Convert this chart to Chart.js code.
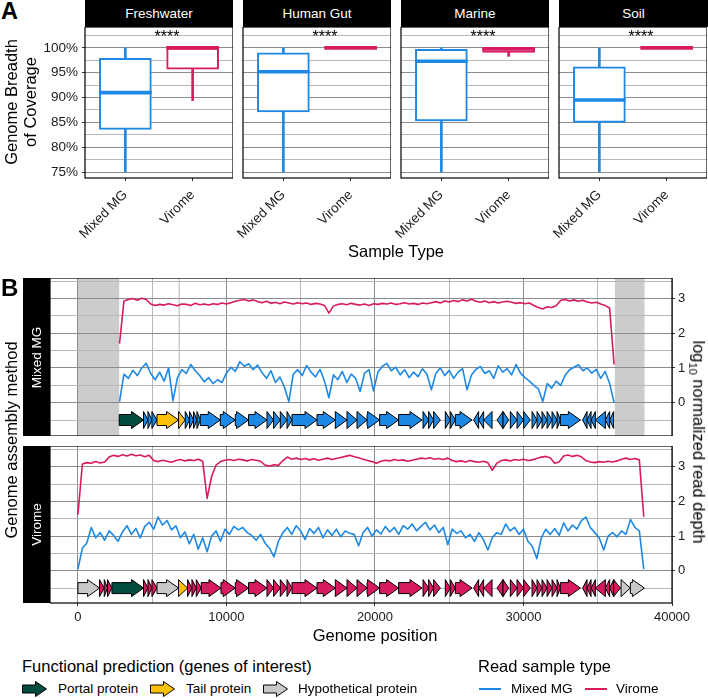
<!DOCTYPE html>
<html>
<head>
<meta charset="utf-8">
<script src="https://cdn.jsdelivr.net/npm/chart.js@4.4.1/dist/chart.umd.min.js"></script>
<style>
  body { margin: 0; background: #fff; font-family: 'Liberation Sans', Arial, sans-serif; color: #000; }
  #page { position: relative; width: 708px; height: 698px; overflow: hidden; }
  canvas, .txt, .strip, .key { position: absolute; }
  .strip { background: #000; color: #fff; font-size: 13.5px; display: flex; align-items: center; justify-content: center; overflow: visible; }
  .strip span { white-space: nowrap; }
  .txt { white-space: nowrap; line-height: 1; }
  .c { transform: translate(-50%, -50%); }
  .lv { transform: translate(0, -50%); }
  .rotL { transform: translate(-50%, -50%) rotate(-90deg); text-align: center; }
  .rotR { transform: translate(-50%, -50%) rotate(90deg); }
  .title { font-size: 16.5px; }
  .leg { font-size: 13.5px; }
</style>
</head>
<body>
<div id="page">
  <div class="txt" style="left:1px;top:0;font-size:23.5px;font-weight:bold">A</div>
  <div class="strip" style="left:85px;top:0;width:148px;height:27px">Freshwater</div>
  <div class="strip" style="left:243px;top:0;width:148px;height:27px">Human Gut</div>
  <div class="strip" style="left:401px;top:0;width:148px;height:27px">Marine</div>
  <div class="strip" style="left:559px;top:0;width:149px;height:27px">Soil</div>
  <canvas id="boxA0" width="196" height="215" style="left:37px;top:27px"></canvas>
  <canvas id="boxA1" width="168" height="215" style="left:223px;top:27px"></canvas>
  <canvas id="boxA2" width="168" height="215" style="left:381px;top:27px"></canvas>
  <canvas id="boxA3" width="168" height="215" style="left:539px;top:27px"></canvas>
  <div class="txt rotL title" style="left:21px;top:102px;line-height:19px">Genome Breadth<br>of Coverage</div>
  <div class="txt c title" style="left:396px;top:251px">Sample Type</div>

  <div class="txt" style="left:1px;top:276px;font-size:24px;font-weight:bold">B</div>
  <div class="strip" style="left:23px;top:278px;width:27px;height:158px"><span style="transform:rotate(-90deg)">Mixed MG</span></div>
  <div class="strip" style="left:23px;top:446px;width:27px;height:157px"><span style="transform:rotate(-90deg)">Virome</span></div>
  <canvas id="depthMG" width="640" height="158" style="left:50px;top:278px"></canvas>
  <canvas id="depthV" width="640" height="182" style="left:50px;top:446px"></canvas>
  <div class="txt rotL title" style="left:11px;top:440px">Genome assembly method</div>
  <div class="txt rotR title" style="left:697px;top:442px">log<sub style="font-size:11px">10</sub> normalized read depth</div>
  <div class="txt c title" style="left:375px;top:635px">Genome position</div>

  <div class="txt lv title" style="left:22px;top:666px">Functional prediction (genes of interest)</div>
  <svg class="key" style="left:22px;top:681px" width="26" height="16"><polygon points="0.5,4 13.5,4 13.5,0.5 24.5,8 13.5,15.5 13.5,12 0.5,12" fill="#004D40" stroke="#000" stroke-width="1"/></svg>
  <div class="txt lv leg" style="left:58px;top:689px">Portal protein</div>
  <svg class="key" style="left:150px;top:681px" width="26" height="16"><polygon points="0.5,4 13.5,4 13.5,0.5 24.5,8 13.5,15.5 13.5,12 0.5,12" fill="#FFC107" stroke="#000" stroke-width="1"/></svg>
  <div class="txt lv leg" style="left:186px;top:689px">Tail protein</div>
  <svg class="key" style="left:263px;top:681px" width="26" height="16"><polygon points="0.5,4 13.5,4 13.5,0.5 24.5,8 13.5,15.5 13.5,12 0.5,12" fill="#C8C8C8" stroke="#000" stroke-width="1"/></svg>
  <div class="txt lv leg" style="left:298px;top:689px">Hypothetical protein</div>

  <div class="txt lv title" style="left:478px;top:666px">Read sample type</div>
  <div class="key" style="left:479px;top:688px;width:22px;height:2px;background:#1E88E5"></div>
  <div class="txt lv leg" style="left:511px;top:689px">Mixed MG</div>
  <div class="key" style="left:585px;top:688px;width:22px;height:2px;background:#D81B60"></div>
  <div class="txt lv leg" style="left:616px;top:689px">Virome</div>
</div>

<script>
// ---- Panel A: breadth of coverage per environment ----
const facets = ['Freshwater', 'Human Gut', 'Marine', 'Soil'];
const sampleTypes = ['Mixed MG', 'Virome'];
// one pair per facet: [Mixed MG, Virome], % genome breadth
const whiskerLow  = [[75.0, 89.4], [75.0, 100], [75.0, 98.3], [75.0, 100]];
const boxLow      = [[83.6, 95.7], [87.1, 100], [85.3, 99.1], [85.0, 100]];
const medianVal   = [[91.0, 100],  [95.2, 100], [97.3, 99.8], [89.5, 100]];
const boxHigh     = [[97.9, 100],  [99.0, 100], [99.7, 100], [96.2, 100]];
const whiskerHigh = [[100, 100],   [100, 100],  [100, 100],  [100, 100]];
const breadthTicks = [75, 77.5, 80, 82.5, 85, 87.5, 90, 92.5, 95, 97.5, 100, 102.5];
const signifLabel = '****';

// ---- Panel B: read depth along the genome ----
const positionTicks = [0, 5000, 10000, 15000, 20000, 25000, 30000, 35000, 40000];
const depthTicks = [-0.5, 0, 0.5, 1, 1.5, 2, 2.5, 3, 3.5];
const binSize = 300;
const mgAsmStart = 2800;   // first bin of the Mixed MG assembly
const vAsmStart = 0;       // first bin of the virome assembly

// Mixed MG assembly, virome reads
const mgAsmVirome = [
  1.70, 2.93, 2.97, 3.00, 2.95, 3.01, 2.97, 2.84, 2.80, 2.83,
  2.81, 2.85, 2.82, 2.79, 2.84, 2.83, 2.80, 2.86, 2.82, 2.84,
  2.81, 2.85, 2.83, 2.87, 2.84, 2.88, 2.92, 2.95, 2.97, 2.93,
  2.96, 2.91, 2.88, 2.92, 2.86, 2.89, 2.85, 2.90, 2.87, 2.84,
  2.88, 2.85, 2.87, 2.83, 2.86, 2.84, 2.80, 2.58, 2.78, 2.83,
  2.85, 2.82, 2.86, 2.83, 2.81, 2.84, 2.80, 2.85, 2.83, 2.86,
  2.84, 2.87, 2.83, 2.85, 2.88, 2.84, 2.86, 2.83, 2.87, 2.85,
  2.88, 2.91, 2.87, 2.93, 2.90, 2.94, 2.91, 2.96, 2.93, 2.98,
  2.92, 2.89, 2.93, 2.88, 2.91, 2.87, 2.90, 2.92, 2.89, 2.86,
  2.88, 2.85, 2.87, 2.80, 2.74, 2.70, 2.76, 2.74, 2.79, 2.94,
  2.97, 2.93, 2.96, 2.92, 2.95, 2.90, 2.87, 2.89, 2.84, 2.80,
  2.72, 1.10
];
// Mixed MG assembly, mixed MG reads
const mgAsmMixed = [
  0.03, 0.82, 0.70, 0.93, 0.78, 1.00, 1.13, 0.84, 0.66, 0.88,
  0.62, 1.00, 0.05, 0.72, 0.95, 0.84, 1.10, 0.92, 0.78, 0.60,
  0.72, 0.55, 0.66, 0.58, 0.85, 1.02, 0.90, 1.18, 1.05, 1.12,
  0.95, 1.08, 0.86, 0.70, 0.92, 0.58, 0.74, 0.45, 0.03, 0.82,
  0.95, 0.78, 1.07, 0.88, 0.74, 0.96, 0.62, 0.14, 0.80, 0.66,
  0.90, 0.58, 0.82, 0.70, 0.32, 0.85, 0.95, 0.34, 0.88, 1.05,
  1.13, 0.92, 1.02, 0.80, 0.95, 0.72, 0.88, 0.75, 0.98, 0.82,
  0.37, 0.85, 1.00, 0.78, 0.93, 0.70, 0.88, 0.98, 0.37, 0.80,
  0.96, 1.04, 0.84, 0.92, 0.70, 1.06, 0.88, 0.98, 0.80, 1.10,
  0.85, 0.72, 0.62, 0.50, 0.40, 0.03, 0.55, 0.42, 0.62, 0.50,
  0.78, 0.95, 1.02, 1.09, 0.92, 1.00, 0.85, 0.96, 0.70, 0.90,
  0.55, 0.00
];
// Virome assembly, virome reads
const vAsmVirome = [
  1.62, 3.08, 3.12, 3.10, 3.15, 3.11, 3.14, 3.28, 3.33, 3.30,
  3.35, 3.31, 3.36, 3.32, 3.34, 3.29, 3.33, 3.18, 3.15, 3.19,
  3.16, 3.13, 3.18, 3.21, 3.17, 3.20, 3.18, 3.22, 3.16, 2.09,
  2.72, 3.05, 3.15, 3.19, 3.21, 3.18, 3.22, 3.20, 3.17, 3.21,
  3.19, 3.16, 3.05, 3.02, 3.06, 3.04, 3.18, 3.28, 3.22, 3.25,
  3.21, 3.24, 3.20, 3.23, 3.19, 3.22, 3.25, 3.21, 3.24, 3.27,
  3.30, 3.33, 3.29, 3.26, 3.22, 3.18, 3.15, 3.10, 3.16, 3.19,
  3.17, 3.21, 3.18, 3.20, 3.16, 3.19, 3.22, 3.25, 3.23, 3.26,
  3.22, 3.24, 3.21, 3.25, 3.18, 3.15, 3.17, 3.14, 3.18, 3.15,
  3.13, 3.16, 3.12, 2.90, 3.10, 3.18, 3.20, 3.17, 3.21, 3.19,
  3.22, 3.18, 3.20, 3.24, 3.28, 3.30, 3.26, 3.10, 3.14, 3.31,
  3.34, 3.30, 3.33, 3.29, 3.18, 3.14, 3.12, 3.15, 3.13, 3.16,
  3.14, 3.17, 3.22, 3.25, 3.21, 3.24, 3.20, 1.56
];
// Virome assembly, mixed MG reads
const vAsmMixed = [
  0.05, 0.65, 0.80, 1.25, 0.95, 1.10, 0.88, 1.15, 1.02, 0.85,
  1.12, 1.30, 1.05, 1.22, 0.95, 1.28, 1.40, 1.20, 1.55, 1.32,
  1.45, 1.18, 1.30, 0.95, 1.12, 0.78, 1.05, 0.62, 0.95, 0.55,
  1.00, 1.15, 0.85, 1.20, 1.05, 1.28, 1.18, 1.25, 1.10, 1.02,
  0.88, 1.05, 0.80, 0.65, 0.40, 0.85, 1.10, 1.25, 1.05, 1.30,
  1.15, 0.90, 1.22, 1.08, 1.25, 0.95, 1.18, 1.02, 1.20, 0.98,
  1.15, 1.08, 1.05, 0.72, 1.10, 1.25, 1.00, 1.18, 1.06, 1.28,
  1.12, 1.25, 1.05, 1.30, 1.20, 1.35, 1.15, 1.28, 1.40, 1.18,
  1.32, 1.10, 1.25, 0.75, 1.20, 1.08, 1.15, 0.95, 1.05, 0.85,
  1.10, 0.90, 0.60, 0.95, 1.10, 1.05, 1.35, 1.15, 1.25, 1.05,
  1.20, 0.85, 0.70, 0.35, 0.95, 1.20, 1.05, 1.22, 1.02, 1.38,
  1.15, 1.32, 1.20, 1.45, 1.55, 1.25, 1.10, 0.95, 0.60, 1.00,
  1.10, 0.98, 1.15, 1.05, 1.48, 1.25, 1.15, 0.05
];

// regions of the genome missing from the Mixed MG assembly
const mgMissing = [[0, 2780], [6770, 6870], [36150, 38150]];

// genes: [start, end, strand, kind]
const mgGenes = [
  [2781, 4418, 1, 'portal'], [4418, 4715, 1, 'other'], [4715, 4984, 1, 'other'], [4984, 5321, 1, 'other'],
  [5321, 6776, 1, 'tail'], [6776, 7227, 1, 'tail'], [7227, 7516, 1, 'other'], [7516, 7786, 1, 'other'],
  [7786, 8015, 1, 'other'], [8015, 8237, 1, 'other'], [8237, 9584, 1, 'other'], [9584, 10594, 1, 'other'],
  [10594, 11490, 1, 'other'], [11490, 12729, 1, 'other'], [12729, 13174, 1, 'other'], [13174, 13625, 1, 'other'],
  [13625, 14076, 1, 'other'], [14076, 14413, 1, 'other'], [14413, 16097, 1, 'other'], [16097, 17329, 1, 'other'],
  [17329, 18117, 1, 'other'], [18117, 18790, 1, 'other'], [18790, 19464, 1, 'other'], [19464, 20313, 1, 'other'],
  [20313, 21593, 1, 'other'], [21593, 23168, 1, 'other'], [23236, 23613, 1, 'other'], [23613, 23950, 1, 'other'],
  [23950, 24401, 1, 'other'], [24737, 25074, 1, 'other'], [25074, 25411, 1, 'other'], [25411, 26536, 1, 'other'],
  [26644, 26981, -1, 'other'], [26981, 27317, -1, 'other'], [27317, 27883, -1, 'other'], [28220, 28624, -1, 'other'],
  [28624, 29001, 1, 'other'], [29115, 29566, 1, 'other'], [29566, 30011, 1, 'other'], [30011, 30462, 1, 'other'],
  [30576, 30913, 1, 'other'], [30913, 31250, 1, 'other'], [31250, 31587, 1, 'other'], [31587, 31924, 1, 'other'],
  [31924, 32260, 1, 'other'], [32260, 32483, 1, 'other'], [32483, 33830, 1, 'other'], [33984, 34281, -1, 'other'],
  [34281, 34550, -1, 'other'], [34550, 34840, -1, 'other'], [34840, 35513, -1, 'other'], [35513, 35803, -1, 'other'],
  [35803, 36072, -1, 'other']
];
const vGenes = [
  [0, 1455, 1, 'hyp'], [1455, 1771, 1, 'other'], [1771, 1994, 1, 'other'], [1994, 2290, 1, 'other'],
  [2290, 4418, 1, 'portal'], [4418, 4715, 1, 'other'], [4715, 4984, 1, 'other'], [4984, 5321, 1, 'other'],
  [5321, 6776, 1, 'hyp'], [6776, 7382, 1, 'tail'], [7382, 7678, 1, 'other'], [7678, 7967, 1, 'other'],
  [7967, 8304, 1, 'other'], [8304, 9631, 1, 'other'], [9631, 10594, 1, 'other'],
  [10594, 11490, 1, 'other'], [11490, 12729, 1, 'other'], [12729, 13174, 1, 'other'], [13174, 13625, 1, 'other'],
  [13625, 14076, 1, 'other'], [14076, 14413, 1, 'other'], [14413, 16097, 1, 'other'], [16097, 17329, 1, 'other'],
  [17329, 18117, 1, 'other'], [18117, 18790, 1, 'other'], [18790, 19464, 1, 'other'], [19464, 20313, 1, 'other'],
  [20313, 21593, 1, 'other'], [21593, 23168, 1, 'other'], [23236, 23613, 1, 'other'], [23613, 23950, 1, 'other'],
  [23950, 24401, 1, 'other'], [24737, 25074, 1, 'other'], [25074, 25411, 1, 'other'], [25411, 26536, 1, 'other'],
  [26644, 26981, -1, 'other'], [26981, 27317, -1, 'other'], [27317, 27883, -1, 'other'], [28220, 28624, -1, 'other'],
  [28624, 29001, 1, 'other'], [29115, 29566, 1, 'other'], [29566, 30011, 1, 'other'], [30011, 30462, 1, 'other'],
  [30576, 30913, 1, 'other'], [30913, 31250, 1, 'other'], [31250, 31587, 1, 'other'], [31587, 31924, 1, 'other'],
  [31924, 32260, 1, 'other'], [32260, 32483, 1, 'other'], [32483, 33830, 1, 'other'], [33984, 34281, -1, 'other'],
  [34281, 34550, -1, 'other'], [34550, 34840, -1, 'other'], [34840, 35513, -1, 'other'], [35513, 35803, -1, 'other'],
  [35803, 36072, -1, 'other'], [36072, 36523, 1, 'other'], [36570, 37196, 1, 'hyp'], [37196, 38139, 1, 'hyp']
];
const geneRow = -0.5;

const BLUE = '#1E88E5', PINK = '#D81B60';
const geneFill = { portal: '#004D40', tail: '#FFC107', hyp: '#C8C8C8' };
const GRID_MAJOR = '#8c8c8c', GRID_MINOR = '#b8b8b8';

Chart.defaults.font.family = "'Liberation Sans', Arial, sans-serif";
Chart.defaults.font.size = 13.5;
Chart.defaults.color = '#1a1a1a';

// panel border drawn on top of everything
const framePlugin = {
  id: 'frame',
  afterDraw(chart) {
    const { ctx, chartArea: a } = chart;
    ctx.save();
    ctx.strokeStyle = '#000';
    ctx.lineWidth = 1.2;
    ctx.strokeRect(a.left, a.top, a.right - a.left, a.bottom - a.top);
    ctx.restore();
  }
};

const signifPlugin = {
  id: 'signif',
  afterDraw(chart, args, opts) {
    const { ctx, chartArea: a } = chart;
    ctx.save();
    ctx.fillStyle = '#000';
    ctx.font = "16px 'Liberation Sans', Arial, sans-serif";
    ctx.textAlign = 'center';
    ctx.textBaseline = 'alphabetic';
    ctx.fillText(opts.text, (a.left + a.right) / 2 + 8, a.top + 14.5);
    ctx.restore();
  }
};

const shadePlugin = {
  id: 'shade',
  beforeDraw(chart, args, opts) {
    if (!opts.ranges) return;
    const { ctx, chartArea: a, scales: { x } } = chart;
    ctx.save();
    ctx.fillStyle = '#cccccc';
    opts.ranges.forEach(([s, e]) => {
      const x1 = x.getPixelForValue(s), x2 = x.getPixelForValue(e);
      ctx.fillRect(x1, a.top, x2 - x1, a.bottom - a.top);
    });
    ctx.restore();
  }
};

const genePlugin = {
  id: 'genes',
  afterDatasetsDraw(chart, args, opts) {
    if (!opts.list) return;
    const { ctx, scales: { x, y } } = chart;
    const yc = y.getPixelForValue(geneRow);
    const headH = 8.5, bodyH = 5.5, headL = 12;
    ctx.save();
    ctx.lineWidth = 1;
    ctx.strokeStyle = '#000';
    opts.list.forEach(([start, end, strand, kind]) => {
      const x1 = x.getPixelForValue(strand > 0 ? start : end);
      const x2 = x.getPixelForValue(strand > 0 ? end : start);
      const len = Math.abs(x2 - x1), dir = Math.sign(x2 - x1);
      const xb = x2 - dir * Math.min(headL, len);
      ctx.beginPath();
      if (len > headL) {
        ctx.moveTo(x1, yc - bodyH); ctx.lineTo(xb, yc - bodyH); ctx.lineTo(xb, yc - headH);
        ctx.lineTo(x2, yc); ctx.lineTo(xb, yc + headH); ctx.lineTo(xb, yc + bodyH);
        ctx.lineTo(x1, yc + bodyH);
      } else {
        ctx.moveTo(x1, yc - headH); ctx.lineTo(x2, yc); ctx.lineTo(x1, yc + headH);
      }
      ctx.closePath();
      ctx.fillStyle = geneFill[kind] || opts.color;
      ctx.fill();
      ctx.stroke();
    });
    ctx.restore();
  }
};

function drawFacet(fi) {
  const first = fi === 0;
  const pts = (lo, hi) => sampleTypes.map((s, j) => ({ x: j + 1, y: [lo[fi][j], hi[fi][j]] }));
  new Chart(document.getElementById('boxA' + fi), {
    type: 'bar',
    data: {
      datasets: [
        { data: pts(whiskerLow, whiskerHigh), backgroundColor: [BLUE, PINK], barThickness: 2, grouped: false, order: 3 },
        { data: pts(boxLow, boxHigh), backgroundColor: '#fff', borderColor: [BLUE, PINK], borderWidth: 2,
          borderSkipped: false, barThickness: 52, grouped: false, order: 2 },
        { data: medianVal[fi].map((m, j) => ({ x: j + 1, y: [m - 0.3, m + 0.3] })), backgroundColor: [BLUE, PINK],
          barThickness: 52, grouped: false, order: 1 }
      ]
    },
    options: {
      animation: false, responsive: false, devicePixelRatio: 1,
      layout: { padding: 0 },
      plugins: { legend: { display: false }, tooltip: { enabled: false }, signif: { text: signifLabel } },
      scales: {
        x: {
          type: 'linear', min: 0.4, max: 2.6, offset: false,
          afterBuildTicks: s => { s.ticks = [{ value: 1 }, { value: 2 }]; },
          afterFit: s => { s.height = 64; s.paddingLeft = 0; s.paddingRight = 0; },
          ticks: { minRotation: 45, maxRotation: 45, autoSkip: false, padding: 6, callback: v => sampleTypes[v - 1] },
          grid: { offset: false, drawOnChartArea: false, drawTicks: true, tickLength: 3, tickColor: '#333' },
          border: { display: false }
        },
        y: {
          min: 73.8, max: 104.2,
          afterBuildTicks: s => { s.ticks = breadthTicks.map(v => ({ value: v })); },
          afterFit: s => { s.width = first ? 48 : 20; s.paddingTop = 0; s.paddingBottom = 0; },
          ticks: { display: first, autoSkip: false, padding: 4, callback: v => (v % 5 === 0 && v <= 100) ? v + '%' : '' },
          grid: {
            color: c => c.tick && c.tick.value % 5 === 0 ? GRID_MAJOR : GRID_MINOR,
            drawTicks: first, tickLength: 3,
            tickColor: c => c.tick && c.tick.value % 5 === 0 && c.tick.value <= 100 ? '#333' : 'rgba(0,0,0,0)'
          },
          border: { display: false }
        }
      }
    },
    plugins: [framePlugin, signifPlugin]
  });
}
facets.forEach((f, i) => drawFacet(i));

function depthChart(id, start, mixed, virome, genes, geneColor, missing, showX) {
  const toPts = arr => arr.map((v, i) => ({ x: start + i * binSize, y: v }));
  new Chart(document.getElementById(id), {
    type: 'line',
    data: {
      datasets: [
        { label: 'Mixed MG', data: toPts(mixed), borderColor: BLUE },
        { label: 'Virome', data: toPts(virome), borderColor: PINK }
      ]
    },
    options: {
      animation: false, responsive: false, devicePixelRatio: 1,
      layout: { padding: 0 },
      elements: { point: { radius: 0 }, line: { borderWidth: 1.6, tension: 0, borderJoinStyle: 'round' } },
      plugins: {
        legend: { display: false }, tooltip: { enabled: false },
        shade: { ranges: missing }, genes: { list: genes, color: geneColor }
      },
      scales: {
        x: {
          type: 'linear', min: -1880, max: 40000,
          afterBuildTicks: s => { s.ticks = positionTicks.map(v => ({ value: v })); },
          afterFit: s => { s.height = showX ? 25 : 0; s.paddingLeft = 0; s.paddingRight = 0; },
          ticks: { display: showX, autoSkip: false, maxRotation: 0, padding: 4, font: { size: 13 },
                   callback: v => v % 10000 === 0 ? String(v) : '' },
          grid: {
            color: c => c.tick && c.tick.value % 10000 === 0 ? GRID_MAJOR : GRID_MINOR,
            drawTicks: showX, tickLength: 3,
            tickColor: c => c.tick && c.tick.value % 10000 === 0 ? '#333' : 'rgba(0,0,0,0)'
          },
          border: { display: false }
        },
        y: {
          position: 'right', min: showX ? -0.93 : -0.96, max: showX ? 3.6 : 3.59,
          afterBuildTicks: s => { s.ticks = depthTicks.map(v => ({ value: v })); },
          afterFit: s => { s.width = 18; s.paddingTop = 0; s.paddingBottom = 0; },
          ticks: { autoSkip: false, padding: 3, font: { size: 13 },
                   callback: v => (Number.isInteger(v) && v >= 0) ? String(v) : '' },
          grid: {
            color: c => c.tick && Number.isInteger(c.tick.value) ? GRID_MAJOR : GRID_MINOR,
            tickLength: 3,
            tickColor: c => c.tick && Number.isInteger(c.tick.value) && c.tick.value >= 0 ? '#333' : 'rgba(0,0,0,0)'
          },
          border: { display: false }
        }
      }
    },
    plugins: [shadePlugin, genePlugin, framePlugin]
  });
}
depthChart('depthMG', mgAsmStart, mgAsmMixed, mgAsmVirome, mgGenes, BLUE, mgMissing, false);
depthChart('depthV', vAsmStart, vAsmMixed, vAsmVirome, vGenes, PINK, null, true);
</script>
</body>
</html>
